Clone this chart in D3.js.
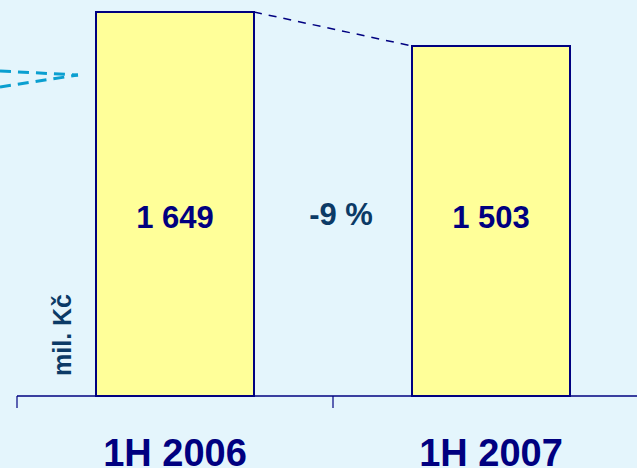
<!DOCTYPE html>
<html>
<head>
<meta charset="utf-8">
<style>
  body { margin: 0; background: #e4f5fc; }
  svg { display: block; font-family: "Liberation Sans", Arial, sans-serif; }
</style>
</head>
<body>
<script src="https://cdn.jsdelivr.net/npm/d3@7"></script>
<script>
// data
var categories = ["1H 2006", "1H 2007"];
var values = [1649, 1503];
var valueLabels = ["1 649", "1 503"];
var changeLabel = "-9 %";
var unitLabel = "mil. Kč";

var width = 637, height = 468;
var navy = "#000080";

var svg = d3.select("body").append("svg")
    .attr("width", width)
    .attr("height", height);

svg.append("rect").attr("width", width).attr("height", height).attr("fill", "#e4f5fc");

// scales
var x = d3.scaleBand().domain(categories).range([17, 649])
    .paddingInner(0.5).paddingOuter(0.25);
var y = d3.scaleLinear().domain([0, 1649]).range([396, 12]);

// cyan dashed leftovers at top-left
var cyan = svg.append("g").attr("stroke", "#0a9fd0").attr("stroke-width", 3)
    .attr("stroke-dasharray", "11,7").attr("fill", "none");
cyan.append("line").attr("x1", 0).attr("y1", 71).attr("x2", 78).attr("y2", 75);
cyan.append("line").attr("x1", 0).attr("y1", 87).attr("x2", 78).attr("y2", 75);

// bars
svg.selectAll(".bar")
    .data(values)
    .enter().append("rect")
    .attr("class", "bar")
    .attr("x", function(d, i) { return x(categories[i]); })
    .attr("y", function(d) { return y(d); })
    .attr("width", x.bandwidth())
    .attr("height", function(d) { return y(0) - y(d); })
    .attr("fill", "#ffff99")
    .attr("stroke", navy)
    .attr("stroke-width", 2);

// dashed connector between tops
svg.append("line")
    .attr("x1", x(categories[0]) + x.bandwidth()).attr("y1", y(values[0]))
    .attr("x2", x(categories[1])).attr("y2", y(values[1]))
    .attr("stroke", navy).attr("stroke-width", 1.5)
    .attr("stroke-dasharray", "8,7");

// axis line and ticks
svg.append("line")
    .attr("x1", 17).attr("x2", width).attr("y1", y(0)).attr("y2", y(0))
    .attr("stroke", navy).attr("stroke-width", 1.5);
var step = x.step();
svg.selectAll(".tick")
    .data([0, 1, 2])
    .enter().append("line")
    .attr("x1", function(d) { return 17 + d * step; })
    .attr("x2", function(d) { return 17 + d * step; })
    .attr("y1", y(0)).attr("y2", y(0) + 12)
    .attr("stroke", navy).attr("stroke-width", 1.2);

// value labels
svg.selectAll(".val")
    .data(valueLabels)
    .enter().append("text")
    .attr("x", function(d, i) { return x(categories[i]) + x.bandwidth() / 2; })
    .attr("y", 228)
    .attr("text-anchor", "middle")
    .attr("font-size", 31).attr("font-weight", "bold")
    .attr("fill", navy)
    .text(function(d) { return d; });

// change label
svg.append("text")
    .attr("x", (x(categories[0]) + x.bandwidth() + x(categories[1])) / 2 + 8)
    .attr("y", 225)
    .attr("text-anchor", "middle")
    .attr("font-size", 31).attr("font-weight", "bold")
    .attr("fill", "#0b3a66")
    .text(changeLabel);

// category labels
svg.selectAll(".cat")
    .data(categories)
    .enter().append("text")
    .attr("x", function(d) { return x(d) + x.bandwidth() / 2; })
    .attr("y", 466)
    .attr("text-anchor", "middle")
    .attr("font-size", 38).attr("font-weight", "bold")
    .attr("fill", navy)
    .text(function(d) { return d; });

// unit label
svg.append("text")
    .attr("transform", "translate(71,335) rotate(-90)")
    .attr("text-anchor", "middle")
    .attr("font-size", 25).attr("font-weight", "bold")
    .attr("fill", "#0b3a66")
    .text(unitLabel);
</script>
</body>
</html>
